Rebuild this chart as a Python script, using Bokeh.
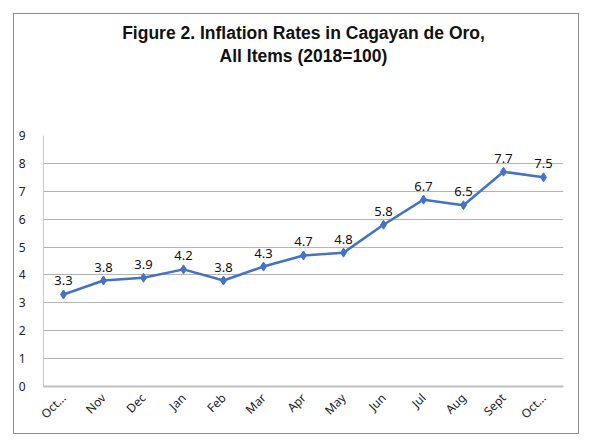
import math
from bokeh.plotting import figure
from bokeh.models import ColumnDataSource, FixedTicker, Range1d, LabelSet, Title
from bokeh.core.properties import value
from bokeh.embed import file_html
from bokeh.resources import INLINE

months = ["Oct…", "Nov", "Dec", "Jan", "Feb", "Mar", "Apr", "May",
          "Jun", "Jul", "Aug", "Sept", "Oct…"]
rates = [3.3, 3.8, 3.9, 4.2, 3.8, 4.3, 4.7, 4.8, 5.8, 6.7, 6.5, 7.7, 7.5]
y_ticks = [0, 1, 2, 3, 4, 5, 6, 7, 8, 9]
title_line1 = "Figure 2. Inflation Rates in Cagayan de Oro,"
title_line2 = "All Items (2018=100)"

idx = list(range(len(months)))
src = ColumnDataSource(dict(x=idx, y=rates, lab=[f"{v:.1f}" for v in rates]))

p = figure(width=566, height=421, output_backend="svg", toolbar_location=None,
           x_range=Range1d(-0.5, len(months) - 0.5), y_range=Range1d(0, 9),
           min_border_left=29, min_border_right=17, min_border_top=121,
           min_border_bottom=49, title=None)
p.margin = (13, 0, 0, 13)
p.styles = {"border": "1px solid #8c8c8c"}
p.outline_line_color = None
p.background_fill_color = "white"
p.border_fill_color = "white"

# title: two centred lines, nearest-to-frame added first (spacer, line 2, line 1)
title_style = dict(align="center", text_font="Liberation Sans",
                   text_font_style="bold", text_font_size="17.5px",
                   text_color="#111111")
p.add_layout(Title(text=" ", standoff=66, text_font_size="1px"), "above")
p.add_layout(Title(text=title_line2, standoff=2, **title_style), "above")
p.add_layout(Title(text=title_line1, standoff=0, **title_style), "above")

# grid
p.xgrid.grid_line_color = None
p.ygrid.grid_line_color = "#b4b4b4"
p.ygrid.grid_line_width = 1
p.ygrid.ticker = FixedTicker(ticks=y_ticks)

# y axis
p.yaxis.ticker = FixedTicker(ticks=y_ticks)
p.yaxis.axis_line_color = "#c8c8c8"
p.yaxis.major_tick_line_color = None
p.yaxis.minor_tick_line_color = None
p.yaxis.major_label_text_font = "Noto Sans"
p.yaxis.major_label_text_font_size = "12px"
p.yaxis.major_label_text_color = "#222222"
p.yaxis.major_label_standoff = 12

# x axis
p.xaxis.ticker = FixedTicker(ticks=idx)
p.xaxis.major_label_overrides = {i: m for i, m in zip(idx, months)}
p.xaxis.major_label_orientation = math.pi / 4
p.xaxis.axis_line_color = "#bfbfbf"
p.xaxis.axis_line_width = 2
p.xaxis.major_tick_line_color = None
p.xaxis.minor_tick_line_color = None
p.xaxis.major_label_text_font = "Noto Sans"
p.xaxis.major_label_text_font_size = "12px"
p.xaxis.major_label_text_color = "#222222"
p.xaxis.major_label_standoff = 3

# series
p.line("x", "y", source=src, line_color="#4472C4", line_width=2.5)
p.scatter("x", "y", source=src, marker="diamond", size=9,
          fill_color="#4472C4", line_color="#4472C4")

labels = LabelSet(x="x", y="y", text="lab", source=src, text_align="center",
                  text_baseline="bottom", y_offset=9,
                  text_font=value("Noto Sans"),
                  text_font_size=value("13px"), text_color="#111111")
p.add_layout(labels)

open("out.html", "w").write(file_html(p, INLINE))
